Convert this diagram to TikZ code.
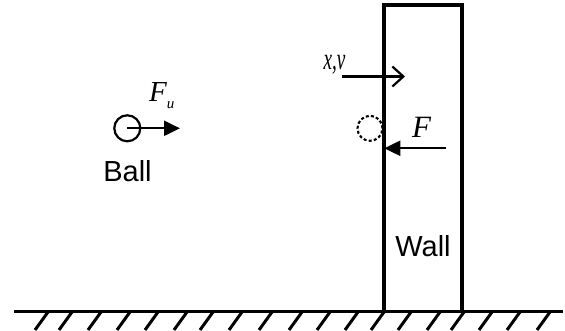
\documentclass[tikz,border=0pt]{standalone}
\usepackage{fontspec}
\setmainfont{Liberation Serif}
\newfontfamily\arialfont{Liberation Sans}
\usetikzlibrary{arrows.meta}
\begin{document}
\begin{tikzpicture}[x=1pt,y=-1pt,
  thickline/.style={line width=3.2pt},
  hatchline/.style={line width=3pt},
  forcearrow/.style={line width=2.2pt,-{Stealth[length=16pt,width=15pt,inset=0pt]}},
  motionarrow/.style={line width=2.2pt,-{Straight Barb[length=11pt,width=20pt,line width=2.2pt]}},
  sanslabel/.style={font=\arialfont\fontsize{29}{32}\selectfont,inner sep=0pt},
  seriflabel/.style={font=\itshape\fontsize{29}{30}\selectfont,inner sep=0pt}]
\useasboundingbox (0,0) rectangle (565,331);
% ground
\coordinate (gl) at (14,311.5);
\coordinate (gr) at (563,311.5);
\draw[thickline] (gl) -- (gr);
\foreach \hx in {48,72,101,130,158,187,213,242,272,302,330,358,384,411,440,464,492,520,550}
  \draw[hatchline] (\hx,312) -- ++(-13,18);
% wall
\coordinate (wbl) at (384,311.5);
\coordinate (wtr) at (462,5);
\draw[thickline] (wbl) |- (wtr) -- (462,311.5);
\node[sanslabel] (walltext) at (423,246) {Wall};
% ball
\node[draw,circle,line width=2.2pt,minimum size=26pt,inner sep=0pt] (ball) at (127.3,128.3) {};
\coordinate (futip) at (180,128.3);
\draw[forcearrow] (ball.center) -- (futip);
\node[sanslabel] (balltext) at (127.5,171) {Ball};
\node[seriflabel,anchor=base west] (fu) at (149,101.5) {F\raisebox{-7pt}{\fontsize{15}{15}\selectfont u}};
% dashed ball at wall
\node[draw,circle,dashed,dash pattern=on 3pt off 2.2pt,line width=2.1pt,minimum size=25pt,inner sep=0pt] (ghost) at (370,128.3) {};
% force F
\coordinate (ftail) at (446,148.3);
\coordinate (ftip) at (384.3,148.3);
\draw[forcearrow] (ftail) -- (ftip);
\node[seriflabel,font=\itshape\fontsize{31}{32}\selectfont] (flabel) at (421.5,127.5) {F};
% x,v arrow
\coordinate (xvtail) at (341.7,76.5);
\coordinate (xvtip) at (405,76.5);
\draw[motionarrow] (xvtail) -- (xvtip);
\node[seriflabel,anchor=base] (xvlabel) at (334.5,69.5) {\scalebox{0.62}[1]{\fontsize{31}{32}\selectfont x,v}};
\end{tikzpicture}
\end{document}
